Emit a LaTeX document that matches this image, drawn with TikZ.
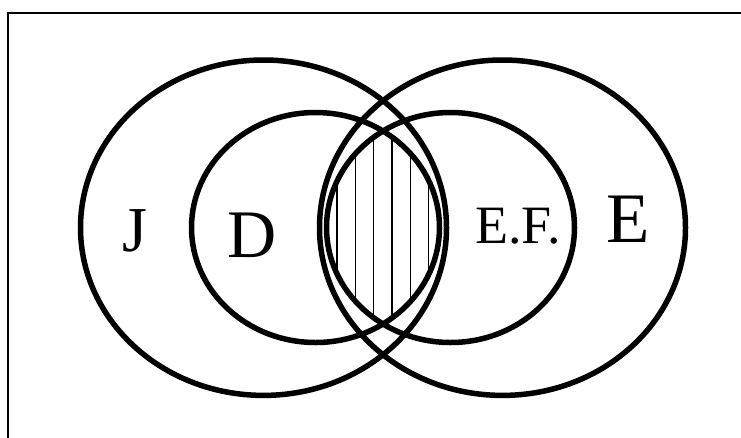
\documentclass[tikz,border=0pt]{standalone}
\usepackage{fontspec}
\setmainfont{Liberation Serif}
\begin{document}
\begin{tikzpicture}[x=1pt,y=-1pt,
  setline/.style={line width=5.5pt},
  hatchline/.style={line width=1.2pt},
  framestyle/.style={line width=2.2pt, draw=black},
  lbl/.style={anchor=base, inner sep=0pt, outer sep=0pt}]
\useasboundingbox (0,0) rectangle (741,437);
% frame (top and left only visible)
\coordinate (ftl) at (8,13);
\coordinate (ftr) at (742,13);
\coordinate (fbl) at (8,438);
\draw[framestyle] (ftr) -- (ftl) -- (fbl);
% hatching in D ∩ E.F.
\begin{scope}
  \clip (315.5,227.5) ellipse [x radius=124, y radius=115];
  \clip (450.5,227.5) ellipse [x radius=124, y radius=115];
  \foreach \xx in {337,355.3,373.6,391.9,410.2,428.5} {
    \draw[hatchline] (\xx,100) -- (\xx,360);
  }
\end{scope}
% ellipses
\draw[setline] (263.5,227.7) ellipse [x radius=183, y radius=167.7];
\draw[setline] (502.5,227.7) ellipse [x radius=183, y radius=167.7];
\draw[setline] (315.5,227.5) ellipse [x radius=124, y radius=115];
\draw[setline] (450.5,227.5) ellipse [x radius=124, y radius=115];
% labels
\node[lbl, font=\fontsize{64}{64}\selectfont] (J) at (135,251) {J};
\node[lbl, font=\fontsize{68}{68}\selectfont] (D) at (252,257) {D};
\node[lbl, font=\fontsize{54}{54}\selectfont] (EF) at (518,243) {E.F.};
\node[lbl, font=\fontsize{71}{71}\selectfont] (E) at (628,242) {E};
\end{tikzpicture}
\end{document}
